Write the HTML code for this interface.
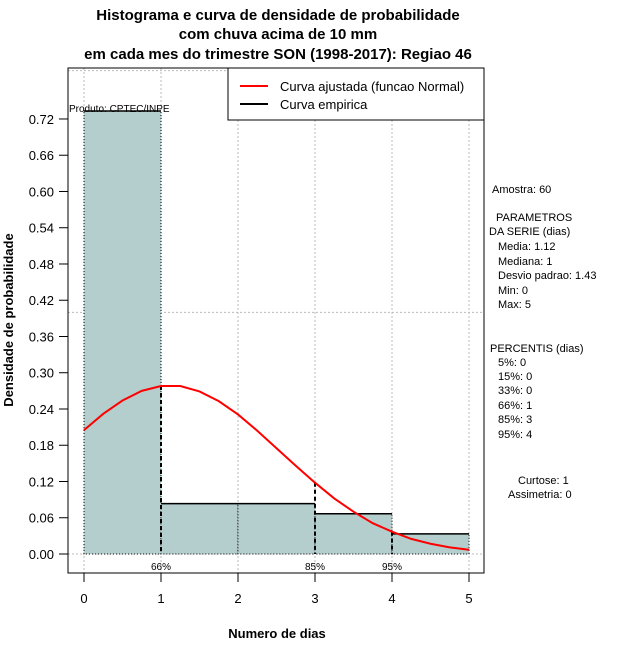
<!DOCTYPE html>
<html><head><meta charset="utf-8"><style>
body{margin:0;background:#fff;}
svg text{font-family:"Liberation Sans","DejaVu Sans",sans-serif;}
</style></head><body>
<svg id="c" width="640" height="660" xmlns="http://www.w3.org/2000/svg">
<g font-weight="bold" font-size="15" text-anchor="middle">
<text x="278" y="20">Histograma e curva de densidade de probabilidade</text>
<text x="278" y="39">com chuva acima de 10 mm</text>
<text x="278" y="59">em cada mes do trimestre SON (1998-2017): Regiao 46</text>
</g>
<g id="grid"></g>
<g id="bars"></g>
<g id="marks"></g>
<rect x="68" y="68" width="416" height="505" fill="none" stroke="#000"/>
<g id="axes" font-size="13"></g>
<text x="277" y="638" font-size="13" font-weight="bold" text-anchor="middle">Numero de dias</text>
<text transform="translate(13,320) rotate(-90)" font-size="13" font-weight="bold" text-anchor="middle">Densidade de probabilidade</text>
<text x="69" y="112" font-size="10">Produto: CPTEC/INPE</text>
<g>
<rect x="228" y="68" width="256" height="52" fill="#fff" stroke="#000"/>
<line x1="240" y1="86" x2="268" y2="86" stroke="#f00" stroke-width="2"/>
<text x="280" y="91" font-size="13">Curva ajustada (funcao Normal)</text>
<line x1="240" y1="104" x2="268" y2="104" stroke="#000" stroke-width="2"/>
<text x="280" y="109" font-size="13">Curva empirica</text>
</g>
<g font-size="11">
<text x="492" y="193">Amostra: 60</text>
<text x="496" y="221">PARAMETROS</text>
<text x="489" y="235">DA SERIE (dias)</text>
<text x="498" y="250">Media: 1.12</text>
<text x="498" y="265">Mediana: 1</text>
<text x="498" y="279">Desvio padrao: 1.43</text>
<text x="498" y="294">Min: 0</text>
<text x="498" y="308">Max: 5</text>
<text x="490" y="352">PERCENTIS (dias)</text>
<text x="498" y="366">5%: 0</text>
<text x="498" y="380">15%: 0</text>
<text x="498" y="394">33%: 0</text>
<text x="498" y="409">66%: 1</text>
<text x="498" y="423">85%: 3</text>
<text x="498" y="438">95%: 4</text>
<text x="518" y="484">Curtose: 1</text>
<text x="508" y="498">Assimetria: 0</text>
</g>
</svg>
<script>
const binStarts=[0,1,2,3,4];
const densities=[0.7333,0.0833,0.0833,0.0667,0.0333];
const curveX=[0,0.25,0.5,0.75,1,1.25,1.5,1.75,2,2.25,2.5,2.75,3,3.25,3.5,3.75,4,4.25,4.5,4.75,5];
const curveY=[0.205,0.232,0.254,0.270,0.278,0.278,0.269,0.253,0.231,0.204,0.175,0.146,0.118,0.092,0.070,0.051,0.037,0.025,0.017,0.011,0.007];
const pctX=[1,3,4];
const pctLabels=["66%","85%","95%"];
const xTicks=[0,1,2,3,4,5];
const yTicks=[0,0.06,0.12,0.18,0.24,0.30,0.36,0.42,0.48,0.54,0.60,0.66,0.72];
const yGrid=[0,0.4,0.8];
const NS="http://www.w3.org/2000/svg";
const sx=v=>84+v*77, sy=v=>554-v*604.2;
function mk(p,t,a){const e=document.createElementNS(NS,t);for(const k in a)e.setAttribute(k,a[k]);p.appendChild(e);return e;}
const grid=document.getElementById('grid'),bars=document.getElementById('bars'),marks=document.getElementById('marks'),axes=document.getElementById('axes');
xTicks.forEach(v=>{const l=mk(grid,'line',{x1:sx(v),x2:sx(v),y1:68,y2:573,stroke:'#bbb','stroke-dasharray':'2,2'});

});
yGrid.forEach(v=>{const l=mk(grid,'line',{x1:68,x2:484,y1:sy(v),y2:sy(v),stroke:'#bbb','stroke-dasharray':'2,2'});

});
binStarts.forEach((b,i)=>{const r=mk(bars,'rect',{x:sx(b),y:sy(densities[i]),width:77,height:sy(0)-sy(densities[i]),fill:'#b4cdcd',stroke:'#000','stroke-dasharray':'1,2'});


const t=mk(bars,'line',{x1:sx(b),x2:sx(b+1),y1:sy(densities[i]),y2:sy(densities[i]),stroke:'#000','stroke-width':1.5});

});
pctX.forEach((p,i)=>{const ci=curveX.indexOf(p);const l=mk(marks,'line',{x1:sx(p),x2:sx(p),y1:sy(curveY[ci]),y2:sy(0),stroke:'#000','stroke-width':2,'stroke-dasharray':'4,3'});


const t=mk(marks,'text',{x:sx(p),y:570,'font-size':10,'text-anchor':'middle'});t.textContent=pctLabels[i];

});
const path=mk(marks,'polyline',{points:curveX.map((x,i)=>sx(x)+','+sy(curveY[i])).join(' '),fill:'none',stroke:'#f00','stroke-width':2});


xTicks.forEach(v=>{mk(axes,'line',{x1:sx(v),x2:sx(v),y1:573,y2:582,stroke:'#000'});const t=mk(axes,'text',{x:sx(v),y:603,'text-anchor':'middle'});t.textContent=v;

});
yTicks.forEach(v=>{mk(axes,'line',{x1:59,x2:68,y1:sy(v),y2:sy(v),stroke:'#000'});const t=mk(axes,'text',{x:54,y:sy(v)+5,'text-anchor':'end'});t.textContent=v.toFixed(2);

});
</script>
</body></html>
